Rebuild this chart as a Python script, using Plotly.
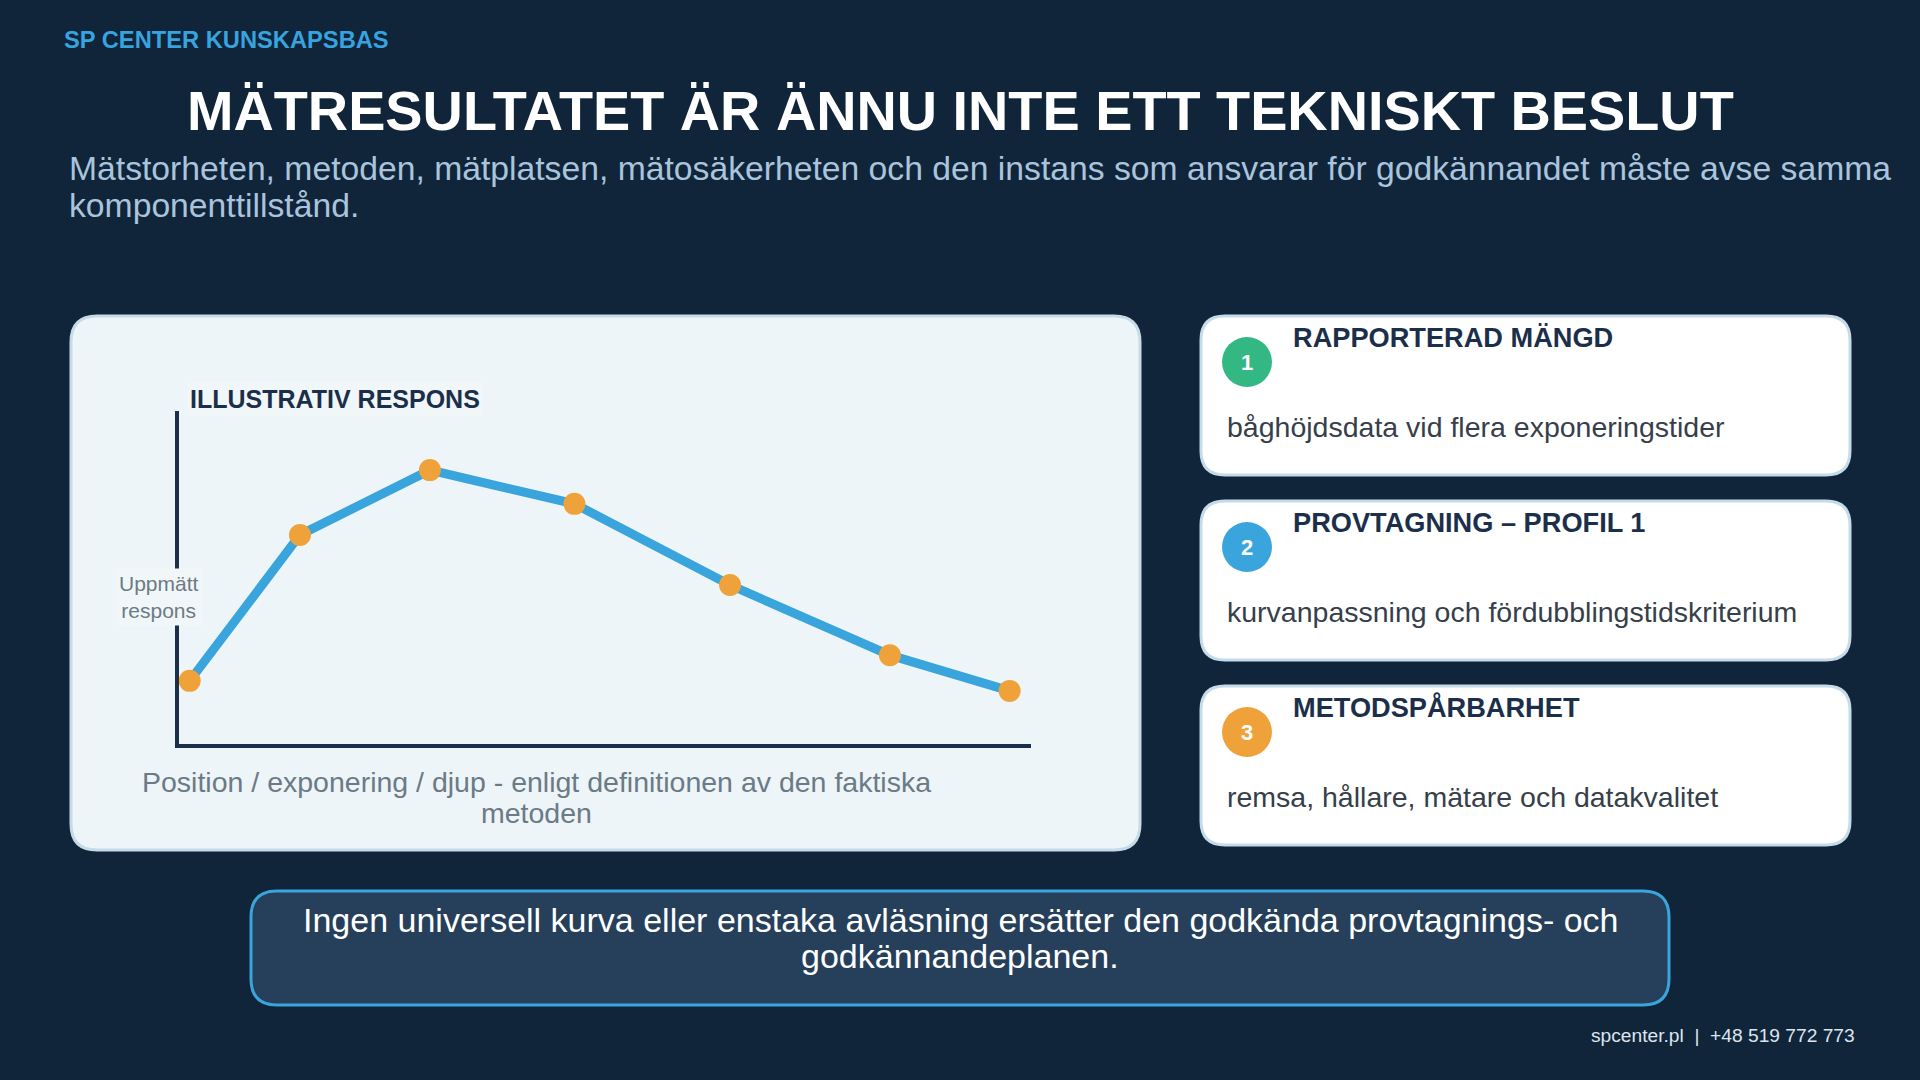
import plotly.graph_objects as go

W, H = 1920, 1080
FONT = "Liberation Sans, Arial, sans-serif"

# %% data

# illustrative response curve (relative units)
x_pos = [1.6, 14.5, 29.7, 46.6, 64.8, 83.5, 97.5]
response = [19.2, 62.9, 82.3, 72.2, 47.9, 26.9, 16.2]

header = "SP CENTER KUNSKAPSBAS"
title = "MÄTRESULTATET ÄR ÄNNU INTE ETT TEKNISKT BESLUT"
subtitle_lines = [
    "Mätstorheten, metoden, mätplatsen, mätosäkerheten och den instans som ansvarar för godkännandet måste avse samma",
    "komponenttillstånd.",
]
chart_title = "ILLUSTRATIV RESPONS"
y_label = "Uppmätt<br>respons"
x_label_lines = ["Position / exponering / djup - enligt definitionen av den faktiska", "metoden"]

card_numbers = ["1", "2", "3"]
card_titles = ["RAPPORTERAD MÄNGD", "PROVTAGNING – PROFIL 1", "METODSPÅRBARHET"]
card_texts = [
    "båghöjdsdata vid flera exponeringstider",
    "kurvanpassning och fördubblingstidskriterium",
    "remsa, hållare, mätare och datakvalitet",
]
badge_colors = ["#33b884", "#3aa5dc", "#f0a23a"]

note_lines = [
    "Ingen universell kurva eller enstaka avläsning ersätter den godkända provtagnings- och",
    "godkännandeplanen.",
]
footer = "spcenter.pl\u00a0 |\u00a0 +48 519 772 773"

# %% helpers (pixel -> paper)

def px(x):
    return x / W


def py(y):
    return 1 - y / H


def rrect(x0, y0, x1, y1, r):
    pts = [
        ("M", [(x0 + r, y0)]), ("L", [(x1 - r, y0)]), ("Q", [(x1, y0), (x1, y0 + r)]),
        ("L", [(x1, y1 - r)]), ("Q", [(x1, y1), (x1 - r, y1)]),
        ("L", [(x0 + r, y1)]), ("Q", [(x0, y1), (x0, y1 - r)]),
        ("L", [(x0, y0 + r)]), ("Q", [(x0, y0), (x0 + r, y0)]),
    ]
    s = ""
    for cmd, pp in pts:
        s += cmd + " ".join(f"{px(a):.5f},{py(b):.5f}" for a, b in pp) + " "
    return s + "Z"


shapes = []
annotations = []


def panel(x0, y0, x1, y1, r, fill, line, lw):
    shapes.append(dict(type="path", path=rrect(x0, y0, x1, y1, r), xref="paper", yref="paper",
                       fillcolor=fill, line=dict(color=line, width=lw), layer="below"))


def text(x, y, s, size, color, anchor="left", bold=False, **kw):
    if bold:
        s = "<b>" + s + "</b>"
    annotations.append(dict(x=px(x), y=py(y), xref="paper", yref="paper", text=s,
                            showarrow=False, xanchor=anchor, yanchor="middle",
                            font=dict(family=FONT, size=size, color=color), **kw))


# %% layout pieces

text(62, 40, header, 23.7, "#37a3df", bold=True)
text(960, 111, title, 55.8, "#ffffff", anchor="center", bold=True)
for i, line in enumerate(subtitle_lines):
    text(67, 168 + i * 37, line, 33.7, "#a9c4dc")

# left chart panel
panel(71, 316, 1140, 850, 26, "#edf5f8", "#c5dbe8", 3)
text(187, 399, chart_title, 25, "#1b2f4b", bold=True, bgcolor="#f1f7f8", borderpad=2)
text(159, 597, y_label, 21, "#6c7a86", anchor="center", bgcolor="#f1f7f8", borderpad=3)
for i, line in enumerate(x_label_lines):
    text(536, 782 + i * 31, line, 28.5, "#6c7a86", anchor="center")

# right cards
for i in range(3):
    top = 316 + i * 185
    panel(1201, top, 1850, top + 159, 24, "#ffffff", "#c5dbe8", 3)
    shapes.append(dict(type="circle", xref="paper", yref="paper",
                       x0=px(1222), x1=px(1272), y0=py(top + 21), y1=py(top + 71),
                       fillcolor=badge_colors[i], line=dict(width=0), layer="below"))
    text(1247, top + 46, card_numbers[i], 22, "#ffffff", anchor="center", bold=True)
    text(1291, top + 21, card_titles[i], 27.2, "#1b2f4b", bold=True)
    text(1225, top + 111, card_texts[i], 28.5, "#363f4a")

# bottom note
panel(251, 891, 1669, 1005, 26, "#263f5a", "#3aa5dc", 3)
for i, line in enumerate(note_lines):
    text(960, 920 + i * 36, line, 34, "#ffffff", anchor="center")

text(1857, 1035, footer, 19.2, "#dde5ee", anchor="right")

# %% figure

fig = go.Figure()
fig.add_trace(go.Scatter(
    x=x_pos, y=response, mode="lines+markers",
    line=dict(color="#3aa5dc", width=9),
    marker=dict(size=22, color="#f0a23a"),
    cliponaxis=False, hoverinfo="skip", showlegend=False,
))

# axis lines are drawn half a line width outside the domain, so nudge the domain in
axis_style = dict(showline=True, linecolor="#1b2f4b", linewidth=4, showgrid=False,
                  zeroline=False, showticklabels=False, ticks="", fixedrange=True)
fig.update_layout(
    width=W, height=H, autosize=False,
    margin=dict(l=0, r=0, t=0, b=0),
    paper_bgcolor="#10243a", plot_bgcolor="rgba(0,0,0,0)",
    xaxis=dict(domain=[px(178.5), px(1031)], range=[0.293, 100], **axis_style),
    yaxis=dict(domain=[py(744), py(411)], range=[0.3, 100], **axis_style),
    shapes=shapes, annotations=annotations,
    font=dict(family=FONT),
)

fig.write_html("out.html", config={"displayModeBar": False},
               post_script="document.body.style.margin='0';document.body.style.background='#10243a';")
